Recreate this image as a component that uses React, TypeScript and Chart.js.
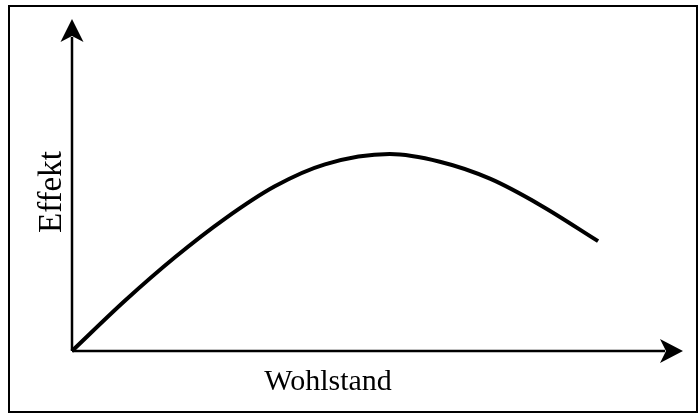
import React, { useEffect, useRef } from "react";
import { Chart, registerables } from "chart.js";

Chart.register(...registerables);

// Wohlstand (x) and Effekt (y) (0..100 scales)
const wohlstand: number[] = [0, 8.7, 16.9, 25.0, 33.2, 41.4, 52.0, 60.2, 68.4, 76.6, 86.1];
const effekt: number[] = [0, 15.2, 28.3, 39.8, 49.6, 56.2, 59.3, 57.0, 51.9, 44.0, 33.1];
const xTitle = "Wohlstand";
const yTitle = "Effekt";

const FONT = '"Liberation Serif", "Times New Roman", serif';

const axesPlugin = {
  id: "arrowAxes",
  afterDraw(chart: any) {
    const ctx = chart.ctx as CanvasRenderingContext2D;
    const xs = chart.scales.x;
    const ys = chart.scales.y;
    const ox = xs.getPixelForValue(0);
    const oy = ys.getPixelForValue(0);
    const xEnd = xs.getPixelForValue(100);
    const yEnd = ys.getPixelForValue(100);
    ctx.save();
    // frame
    ctx.strokeStyle = "#000";
    ctx.lineWidth = 2;
    ctx.strokeRect(9, 6, 688, 406);
    // axes lines
    ctx.lineWidth = 2.5;
    ctx.beginPath();
    ctx.moveTo(ox, oy);
    ctx.lineTo(ox, yEnd + 18);
    ctx.moveTo(ox, oy);
    ctx.lineTo(xEnd - 18, oy);
    ctx.stroke();
    // arrowheads
    ctx.fillStyle = "#000";
    ctx.beginPath();
    ctx.moveTo(ox, yEnd);
    ctx.lineTo(ox - 11.5, yEnd + 23);
    ctx.lineTo(ox, yEnd + 17);
    ctx.lineTo(ox + 11.5, yEnd + 23);
    ctx.closePath();
    ctx.fill();
    ctx.beginPath();
    ctx.moveTo(xEnd, oy);
    ctx.lineTo(xEnd - 23, oy - 12);
    ctx.lineTo(xEnd - 17, oy);
    ctx.lineTo(xEnd - 23, oy + 12);
    ctx.closePath();
    ctx.fill();
    // titles
    ctx.fillStyle = "#000";
    ctx.font = `30px ${FONT}`;
    ctx.textAlign = "center";
    ctx.textBaseline = "alphabetic";
    ctx.fillText(xTitle, 328, 390);
    ctx.translate(61, 192);
    ctx.rotate(-Math.PI / 2);
    ctx.font = `33px ${FONT}`;
    ctx.fillText(yTitle, 0, 0);
    ctx.restore();
  },
};

export default function App() {
  const ref = useRef<HTMLCanvasElement | null>(null);
  useEffect(() => {
    document.body.style.margin = "0";
    const canvas = ref.current;
    if (!canvas) return;
    const chart = new Chart(canvas, {
      type: "line",
      data: {
        datasets: [
          {
            data: wohlstand.map((x, i) => ({ x, y: effekt[i] })),
            borderColor: "#000",
            borderWidth: 4,
            pointRadius: 0,
            fill: false,
            cubicInterpolationMode: "monotone",
            borderCapStyle: "butt",
            borderJoinStyle: "round",
            clip: false,
          } as any,
        ],
      },
      options: {
        animation: false,
        responsive: false,
        devicePixelRatio: 1,
        layout: { padding: { left: 72, right: 16, top: 19, bottom: 63 } },
        plugins: { legend: { display: false }, tooltip: { enabled: false } },
        scales: {
          x: { type: "linear", min: 0, max: 100, display: false },
          y: { type: "linear", min: 0, max: 100, display: false },
        },
      },
      plugins: [axesPlugin],
    });
    return () => chart.destroy();
  }, []);
  return (
    <div style={{ position: "fixed", left: 0, top: 0, width: 699, height: 414, background: "#fff" }}>
      <canvas ref={ref} width={699} height={414} style={{ display: "block" }} />
    </div>
  );
}
